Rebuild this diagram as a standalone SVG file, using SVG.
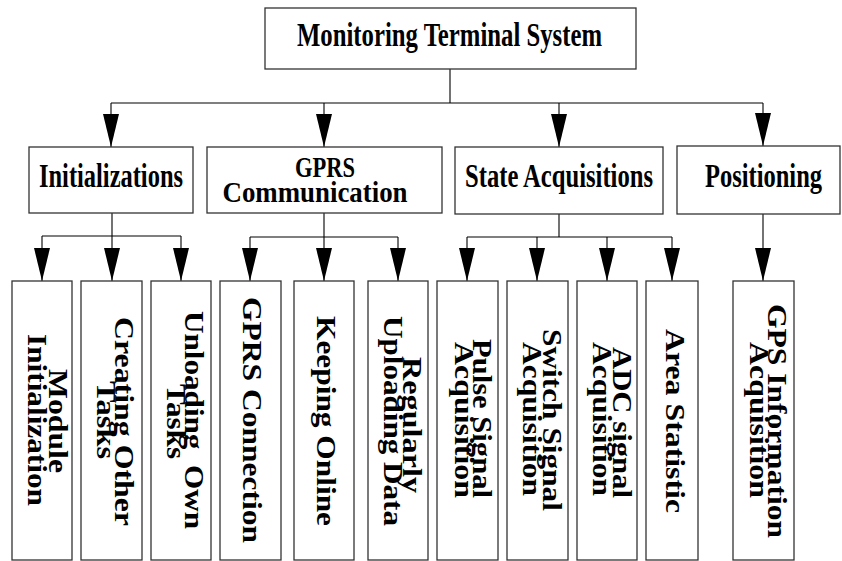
<svg xmlns="http://www.w3.org/2000/svg" width="842" height="561" viewBox="0 0 842 561">
<style>
  .box { fill: #ffffff; stroke: #333333; stroke-width: 1.3; }
  .con { fill: none; stroke: #000000; stroke-width: 1.1; }
  .arr { fill: none; stroke: #000000; stroke-width: 1.1; marker-end: url(#ah); }
  .t1 { font-family: "Liberation Serif", "Times New Roman", serif; font-weight: bold; font-size: 33px; fill: #000; text-anchor: middle; }
  .t2 { font-family: "Liberation Serif", "Times New Roman", serif; font-weight: bold; font-size: 30px; fill: #000; text-anchor: middle; }
  .t3 { font-family: "Liberation Serif", "Times New Roman", serif; font-weight: bold; font-size: 27px; fill: #000; text-anchor: middle; }
  .t4 { font-family: "Liberation Serif", "Times New Roman", serif; font-weight: bold; font-size: 28px; fill: #000; text-anchor: middle; }
</style>
<defs>
  <marker id="ah" viewBox="0 0 33 16" refX="33" refY="8" markerWidth="33" markerHeight="16" markerUnits="userSpaceOnUse" orient="auto">
    <path d="M0,0 L33,8 L0,16 z" fill="#000000"/>
  </marker>
</defs>
<rect width="842" height="561" fill="#ffffff"/>

<g id="connectors">
  <path class="con" d="M450,69 V103 M111,103 H763"/>
  <path class="arr" d="M111,103 V147"/>
  <path class="arr" d="M324,103 V147"/>
  <path class="arr" d="M559,103 V147"/>
  <path class="arr" d="M763,103 V146"/>

  <path class="con" d="M112,213 V236 M42,236 H181"/>
  <path class="arr" d="M42,236 V281"/>
  <path class="arr" d="M112,236 V281"/>
  <path class="arr" d="M181,236 V281"/>

  <path class="con" d="M324,213 V237 M250,237 H398"/>
  <path class="arr" d="M250,237 V281"/>
  <path class="arr" d="M324,237 V281"/>
  <path class="arr" d="M398,237 V281"/>

  <path class="con" d="M559,214 V237 M467,237 H672"/>
  <path class="arr" d="M467,237 V281"/>
  <path class="arr" d="M537,237 V281"/>
  <path class="arr" d="M607,237 V281"/>
  <path class="arr" d="M672,237 V281"/>

  <path class="arr" d="M763,214 V281"/>
</g>

<g id="root">
  <rect class="box" x="265" y="8" width="371" height="61"/>
  <text class="t1" x="449.5" y="46" textLength="305" lengthAdjust="spacingAndGlyphs">Monitoring Terminal System</text>
</g>

<g id="initializations">
  <rect class="box" x="29" y="147" width="164" height="66"/>
  <text class="t1" x="111" y="187" textLength="144" lengthAdjust="spacingAndGlyphs">Initializations</text>
</g>
<g id="gprs-communication">
  <rect class="box" x="207" y="147" width="235" height="66"/>
  <text class="t2" x="325" y="177" textLength="60" lengthAdjust="spacingAndGlyphs">GPRS</text>
  <text class="t2" x="315" y="202" textLength="185" lengthAdjust="spacingAndGlyphs">Communication</text>
</g>
<g id="state-acquisitions">
  <rect class="box" x="455" y="147" width="208" height="67"/>
  <text class="t1" x="559" y="187" textLength="188" lengthAdjust="spacingAndGlyphs">State Acquisitions</text>
</g>
<g id="positioning">
  <rect class="box" x="677" y="146" width="163" height="68"/>
  <text class="t1" x="763.5" y="187" textLength="117" lengthAdjust="spacingAndGlyphs">Positioning</text>
</g>

<g id="module-initialization">
  <rect class="box" x="12" y="281" width="60" height="279"/>
  <text class="t3" transform="translate(49,421) rotate(90)" textLength="104" lengthAdjust="spacingAndGlyphs">Module</text>
  <text class="t3" transform="translate(28,420) rotate(90)" textLength="172" lengthAdjust="spacingAndGlyphs">Initialization</text>
</g>
<g id="creating-other-tasks">
  <rect class="box" x="81" y="281" width="61" height="279"/>
  <text class="t3" transform="translate(115,421.5) rotate(90)" textLength="209" lengthAdjust="spacingAndGlyphs">Creating Other</text>
  <text class="t3" transform="translate(97,420) rotate(90)" textLength="78" lengthAdjust="spacingAndGlyphs">Tasks</text>
</g>
<g id="unloading-own-tasks">
  <rect class="box" x="151" y="281" width="60" height="279"/>
  <text class="t3" transform="translate(185,420) rotate(90)" textLength="218" lengthAdjust="spacingAndGlyphs" xml:space="preserve">Unloading  Own</text>
  <text class="t3" transform="translate(167,421.5) rotate(90)" textLength="75" lengthAdjust="spacingAndGlyphs">Tasks</text>
</g>
<g id="gprs-connection">
  <rect class="box" x="220" y="281" width="61" height="279"/>
  <text class="t4" transform="translate(243,420) rotate(90)" textLength="246" lengthAdjust="spacingAndGlyphs">GPRS Connection</text>
</g>
<g id="keeping-online">
  <rect class="box" x="294" y="281" width="60" height="279"/>
  <text class="t4" transform="translate(317,421) rotate(90)" textLength="210" lengthAdjust="spacingAndGlyphs">Keeping Online</text>
</g>
<g id="regularly-uploading-data">
  <rect class="box" x="368" y="281" width="60" height="279"/>
  <text class="t3" transform="translate(403,425) rotate(90)" textLength="136" lengthAdjust="spacingAndGlyphs">Regularly</text>
  <text class="t3" transform="translate(384,421) rotate(90)" textLength="210" lengthAdjust="spacingAndGlyphs">Uploading Data</text>
</g>
<g id="pulse-signal-acquisition">
  <rect class="box" x="437" y="281" width="61" height="279"/>
  <text class="t3" transform="translate(473,418.5) rotate(90)" textLength="159" lengthAdjust="spacingAndGlyphs">Pulse Signal</text>
  <text class="t3" transform="translate(455,420) rotate(90)" textLength="156" lengthAdjust="spacingAndGlyphs">Acquisition</text>
</g>
<g id="switch-signal-acquisition">
  <rect class="box" x="507" y="281" width="61" height="279"/>
  <text class="t3" transform="translate(543,420) rotate(90)" textLength="182" lengthAdjust="spacingAndGlyphs">Switch Signal</text>
  <text class="t3" transform="translate(523,419) rotate(90)" textLength="154" lengthAdjust="spacingAndGlyphs">Acquisition</text>
</g>
<g id="adc-signal-acquisition">
  <rect class="box" x="577" y="281" width="60" height="279"/>
  <text class="t3" transform="translate(613,422.5) rotate(90)" textLength="151" lengthAdjust="spacingAndGlyphs">ADC signal</text>
  <text class="t3" transform="translate(593,419) rotate(90)" textLength="154" lengthAdjust="spacingAndGlyphs">Acquisition</text>
</g>
<g id="area-statistic">
  <rect class="box" x="646" y="281" width="52" height="279"/>
  <text class="t4" transform="translate(666,421) rotate(90)" textLength="184" lengthAdjust="spacingAndGlyphs">Area Statistic</text>
</g>
<g id="gps-information-acquisition">
  <rect class="box" x="733" y="281" width="61" height="279"/>
  <text class="t3" transform="translate(768,421) rotate(90)" textLength="234" lengthAdjust="spacingAndGlyphs">GPS Information</text>
  <text class="t3" transform="translate(750,420) rotate(90)" textLength="156" lengthAdjust="spacingAndGlyphs">Acquisition</text>
</g>
</svg>
